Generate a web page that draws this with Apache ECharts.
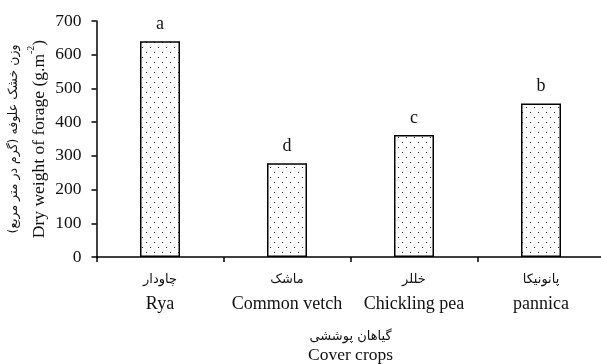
<!DOCTYPE html>
<html>
<head>
<meta charset="utf-8">
<script src="https://cdn.jsdelivr.net/npm/echarts@6/dist/echarts.min.js"></script>
<style>
  html, body { margin: 0; padding: 0; background: #fff; }
  #chart { width: 601px; height: 364px; }
</style>
</head>
<body>
<div id="chart"></div>
<script>
var categoriesFa = ['چاودار', 'ماشک', 'خللر', 'پانونیکا'];
var categoriesEn = ['Rya', 'Common vetch', 'Chickling pea', 'pannica'];
var dryWeight = [640, 278, 362, 455];
var letters = ['a', 'd', 'c', 'b'];
var yTicks = [0, 100, 200, 300, 400, 500, 600, 700];

var RLM = '\u200F';
var serif = '"Liberation Serif", "Times New Roman", serif';
var faFont = '"DejaVu Sans", sans-serif';

// dotted fill like the original hatch
var dots = document.createElement('canvas');
dots.width = 8; dots.height = 10;
var ctx = dots.getContext('2d');
ctx.fillStyle = '#fff';
ctx.fillRect(0, 0, 8, 10);
ctx.fillStyle = '#222';
ctx.fillRect(2, 2, 1, 1);
ctx.fillRect(6, 7, 1, 1);

var chart = echarts.init(document.getElementById('chart'));

var option = {
    backgroundColor: '#fff',
    animation: false,
    grid: { left: 96.5, right: -3.5, top: 21, bottom: 107, outerBoundsMode: 'none', containLabel: false },
    xAxis: {
        type: 'category',
        data: categoriesEn,
        name: '{fa|' + RLM + 'گیاهان پوششی' + RLM + '}\n{en|Cover crops}',
        nameLocation: 'middle',
        nameGap: 70,
        nameMoveOverlap: false,
        nameTextStyle: {
            rich: {
                fa: { fontFamily: faFont, fontSize: 13, color: '#111', lineHeight: 19 },
                en: { fontFamily: serif, fontSize: 17.5, color: '#111', lineHeight: 19 }
            }
        },
        axisLine: { lineStyle: { color: '#000', width: 1.5 } },
        axisTick: { show: true, length: 5, lineStyle: { color: '#000', width: 1.5 } },
        axisLabel: {
            margin: 11,
            interval: 0,
            formatter: function (v, i) {
                return '{fa|' + RLM + categoriesFa[i] + RLM + '}\n{en|' + v + '}';
            },
            rich: {
                fa: { fontFamily: faFont, fontSize: 13, color: '#111', lineHeight: 24 },
                en: { fontFamily: serif, fontSize: 18, color: '#111', lineHeight: 24 }
            }
        },
        splitLine: { show: false }
    },
    yAxis: {
        type: 'value',
        min: yTicks[0],
        max: yTicks[yTicks.length - 1],
        interval: 100,
        name: '{fa|' + RLM + 'وزن خشک علوفه (گرم در متر مربع)' + RLM + '}\n{en|Dry weight of forage (g.m}{sup|-2}{en|)}',
        nameLocation: 'middle',
        nameGap: 45,
        nameMoveOverlap: false,
        nameTextStyle: {
            rich: {
                fa: { fontFamily: faFont, fontSize: 12.5, color: '#111', lineHeight: 25 },
                en: { fontFamily: serif, fontSize: 17.5, color: '#111', lineHeight: 25 },
                sup: { fontFamily: serif, fontSize: 10, color: '#111', verticalAlign: 'top', lineHeight: 25, padding: [0, 0, 8, 0] }
            }
        },
        axisLine: { show: true, lineStyle: { color: '#000', width: 1.5 } },
        axisTick: { show: true, length: 5, lineStyle: { color: '#000', width: 1.5 } },
        axisLabel: { fontFamily: serif, fontSize: 17.5, color: '#111', margin: 15 },
        splitLine: { show: false }
    },
    series: [{
        type: 'bar',
        data: dryWeight,
        barWidth: 40,
        itemStyle: {
            color: { image: dots, repeat: 'repeat' },
            borderColor: '#000',
            borderWidth: 1.5
        },
        label: {
            show: true,
            position: 'top',
            distance: 8,
            fontFamily: serif,
            fontSize: 18,
            color: '#111',
            formatter: function (p) { return letters[p.dataIndex]; }
        }
    }]
};

chart.setOption(option);
window.onresize = chart.resize;
</script>
</body>
</html>
